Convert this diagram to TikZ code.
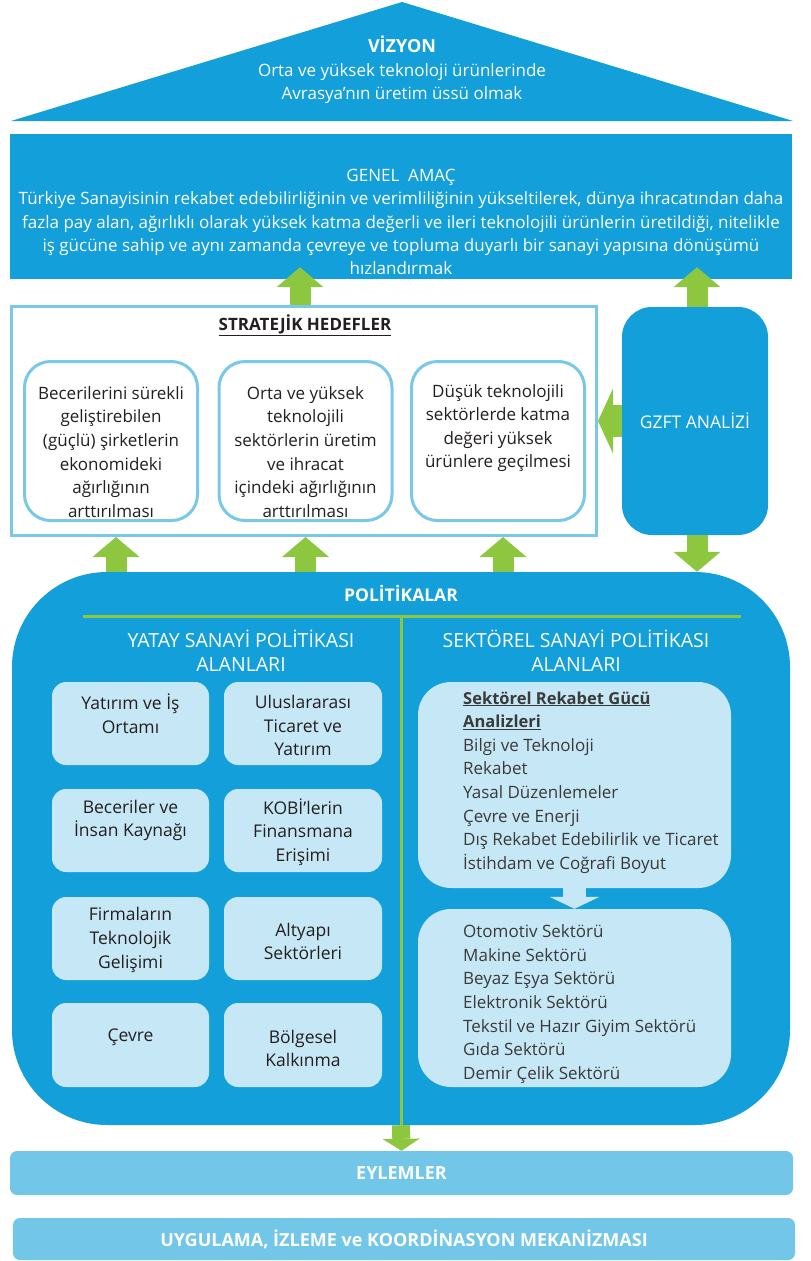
\documentclass[tikz,border=0pt]{standalone}
\usepackage{fontspec}
\setmainfont{Open Sans}
\usepackage{xcolor}
\usepackage{tikz}
\usetikzlibrary{arrows.meta,positioning}
\definecolor{mainblue}{HTML}{129FDA}
\definecolor{paleblue}{HTML}{C6E7F5}
\definecolor{lineblue}{HTML}{78C8EA}
\definecolor{barblue}{HTML}{72C6E7}
\definecolor{leafgreen}{HTML}{8DC63F}
\definecolor{darktext}{HTML}{231F20}
\definecolor{greytext}{HTML}{3A3A3A}

\begin{document}
\begin{tikzpicture}[x=1pt,y=-1pt,
	bluebox/.style={fill=mainblue,draw=none,inner sep=0pt},
	goalbox/.style={draw=lineblue,line width=3pt,fill=white,rounded corners=26pt,minimum width=173pt,minimum height=159pt,inner sep=0pt},
	areabox/.style={fill=paleblue,rounded corners=14pt,minimum height=83pt,inner sep=0pt},
	sectbox/.style={fill=paleblue,rounded corners=33pt,minimum width=313pt,inner sep=0pt},
	barbox/.style={fill=barblue,rounded corners=7pt,inner sep=0pt,text=white,font=\bfseries\fontsize{18}{22}\selectfont},
	wtext/.style={text=white,inner sep=0pt,align=center,font=\fontsize{17}{23.4}\selectfont},
	dtext/.style={text=darktext,inner sep=0pt,align=center,font=\fontsize{17}{23.6}\selectfont},
	areatext/.style={text=darktext,inner sep=0pt,align=center,font=\fontsize{17.5}{23.6}\selectfont},
	ltext/.style={text=greytext,inner sep=0pt,align=left,anchor=west,font=\fontsize{17}{23.6}\selectfont},
	garrow/.style={draw=leafgreen,line width=21pt,-{Triangle[width=47pt,length=20pt,line width=0pt]}},
	fatarrow/.style={draw=leafgreen,line width=32pt,-{Triangle[width=65pt,length=15pt,line width=0pt]}},
	thinarrow/.style={draw=leafgreen,line width=18pt,-{Triangle[width=37pt,length=12pt,line width=0pt]}},
	palearrow/.style={draw=paleblue,line width=23pt,-{Triangle[width=50pt,length=12pt,line width=0pt]}},
	divline/.style={draw=leafgreen,line width=3pt}]
	\useasboundingbox (0,0) rectangle (811,1261);
	\fill[mainblue] (11,121) -- (402,2) -- (793,121) -- cycle;
	\node[wtext] (vizyon) at (402,70) {{\bfseries\fontsize{18}{23.4}\selectfont VİZYON}\\Orta ve yüksek teknoloji ürünlerinde\\Avrasya’nın üretim üssü olmak};
	\node[bluebox,minimum width=782pt,minimum height=145pt] (genel) at (401,206.5) {};
	\node[wtext] (geneltext) at (401,222) {GENEL\ \ AMAÇ\\Türkiye Sanayisinin rekabet edebilirliğinin ve verimliliğinin yükseltilerek, dünya ihracatından daha\\fazla pay alan, ağırlıklı olarak yüksek katma değerli ve ileri teknolojili ürünlerin üretildiği, nitelikle\\iş gücüne sahip ve aynı zamanda çevreye ve topluma duyarlı bir sanayi yapısına dönüşümü\\hızlandırmak};
	\node[draw=lineblue,line width=3pt,minimum width=585pt,minimum height=229pt] (strat) at (304,421) {};
	\node[dtext,font=\bfseries\fontsize{17}{20}\selectfont] (strattitle) at (305,325) {\underline{STRATEJİK HEDEFLER}};
	\node[goalbox] (goal1) at (111,441) {};
	\node[goalbox] (goal2) at (305.5,441) {};
	\node[goalbox] (goal3) at (498,441) {};
	\node[dtext] (goal1text) at (111,452) {Becerilerini sürekli\\geliştirebilen\\(güçlü) şirketlerin\\ekonomideki\\ağırlığının\\arttırılması};
	\node[dtext] (goal2text) at (305.5,452) {Orta ve yüksek\\teknolojili\\sektörlerin üretim\\ve ihracat\\içindeki ağırlığının\\arttırılması};
	\node[dtext] (goal3text) at (498,428) {Düşük teknolojili\\sektörlerde katma\\değeri yüksek\\ürünlere geçilmesi};
	\node[bluebox,rounded corners=30pt,minimum width=146pt,minimum height=228pt,text=white,font=\fontsize{17.5}{20}\selectfont] (gzft) at (695,421) {GZFT ANALİZİ};
	\node[bluebox,rounded corners=95pt,minimum width=778pt,minimum height=553pt] (pol) at (401,848.5) {};
	\node[wtext,font=\bfseries\fontsize{17.5}{20}\selectfont] (poltitle) at (401,593) {POLİTİKALAR};
	\draw[divline] (83,616) -- (741,616);
	\draw[divline] (401,616) -- (pol.south);
	\node[wtext,font=\fontsize{19.5}{24}\selectfont] (yatay) at (241,651) {YATAY SANAYİ POLİTİKASI\\ALANLARI};
	\node[wtext,font=\fontsize{19.5}{24}\selectfont] (sektorel) at (576,651) {SEKTÖREL SANAYİ POLİTİKASI\\ALANLARI};
	\node[areabox,minimum width=157pt] (area1) at (130.5,723.5) {};
	\node[areabox,minimum width=158pt] (area2) at (303,723.5) {};
	\node[areabox,minimum width=157pt] (area3) at (130.5,830.5) {};
	\node[areabox,minimum width=158pt] (area4) at (303,830.5) {};
	\node[areabox,minimum width=157pt] (area5) at (130.5,938.5) {};
	\node[areabox,minimum width=158pt] (area6) at (303,938.5) {};
	\node[areabox,minimum width=157pt,minimum height=84pt] (area7) at (130.5,1045) {};
	\node[areabox,minimum width=158pt,minimum height=84pt] (area8) at (303,1045) {};
	\node[areatext] (area1text) at (130.5,713.5) {Yatırım ve İş\\Ortamı};
	\node[areatext] (area2text) at (303,725.5) {Uluslararası\\Ticaret ve\\Yatırım};
	\node[areatext] (area3text) at (130.5,820.5) {Beceriler ve\\İnsan Kaynağı};
	\node[areatext] (area4text) at (303,832) {KOBİ’lerin\\Finansmana\\Erişimi};
	\node[areatext] (area5text) at (130.5,940) {Firmaların\\Teknolojik\\Gelişimi};
	\node[areatext] (area6text) at (303,941.5) {Altyapı\\Sektörleri};
	\node[areatext] (area7text) at (130.5,1037) {Çevre};
	\node[areatext] (area8text) at (303,1048.5) {Bölgesel\\Kalkınma};
	\node[sectbox,minimum height=206pt] (sect1) at (574.5,785) {};
	\node[sectbox,minimum height=178pt] (sect2) at (574.5,998) {};
	\node[ltext] (sect1text) at (463,782.5) {{\bfseries\fontsize{16.5}{23.6}\selectfont\underline{Sektörel Rekabet Gücü}}\\{\bfseries\fontsize{16.5}{23.6}\selectfont\underline{Analizleri}}\\Bilgi ve Teknoloji\\Rekabet\\Yasal Düzenlemeler\\Çevre ve Enerji\\Dış Rekabet Edebilirlik ve Ticaret\\İstihdam ve Coğrafi Boyut};
	\node[ltext] (sect2text) at (463,1004) {Otomotiv Sektörü\\Makine Sektörü\\Beyaz Eşya Sektörü\\Elektronik Sektörü\\Tekstil ve Hazır Giyim Sektörü\\Gıda Sektörü\\Demir Çelik Sektörü};
	\draw[palearrow] (sect1.south) -- (sect2.north);
	\node[barbox,minimum width=783pt,minimum height=44pt] (eylem) at (401.5,1173) {EYLEMLER};
	\node[barbox,minimum width=782pt,minimum height=42pt] (uygulama) at (404,1239) {UYGULAMA, İZLEME ve KOORDİNASYON MEKANİZMASI};
	\draw[garrow] (strat.north -| 300,0) -- ([yshift=12pt]genel.south -| 300,0);
	\draw[garrow] ([xshift=2pt]gzft.north) -- ([yshift=12pt]genel.south -| 697,0);
	\draw[fatarrow] (gzft.west) -- (gzft.west -| strat.east);
	\draw[garrow] ([xshift=2pt]gzft.south) -- (pol.north -| 697,0);
	\draw[garrow] (pol.north -| 116,0) -- (strat.south -| 116,0);
	\draw[garrow] (pol.north -| goal2.south) -- (strat.south -| goal2.south);
	\draw[garrow] (pol.north -| 503,0) -- (strat.south -| 503,0);
	\draw[thinarrow] (pol.south) -- (eylem.north);
\end{tikzpicture}
\end{document}
